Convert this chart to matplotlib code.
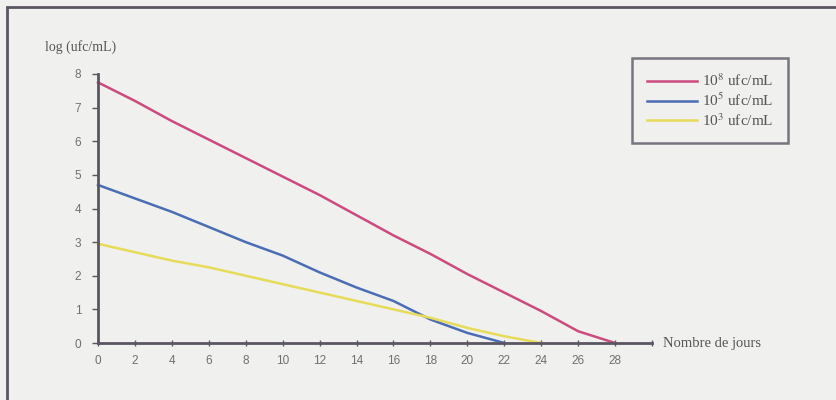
import matplotlib
matplotlib.use("Agg")
import matplotlib.pyplot as plt
from matplotlib.patches import Rectangle

# days and log counts per inoculum
days_high = [0, 2, 4, 6, 8, 10, 12, 14, 16, 18, 20, 22, 24, 26, 28]
log_high = [7.75, 7.2, 6.6, 6.05, 5.5, 4.95, 4.4, 3.8, 3.2, 2.65, 2.05, 1.5, 0.95, 0.35, 0.0]

days_mid = [0, 2, 4, 6, 8, 10, 12, 14, 16, 18, 20, 22]
log_mid = [4.7, 4.3, 3.9, 3.45, 3.0, 2.6, 2.1, 1.65, 1.25, 0.7, 0.3, 0.0]

days_low = [0, 2, 4, 6, 8, 10, 12, 14, 16, 18, 20, 22, 24]
log_low = [2.95, 2.7, 2.45, 2.25, 2.0, 1.75, 1.5, 1.25, 1.0, 0.75, 0.45, 0.2, 0.0]

labels = ["10$^{8}$ ufc/mL", "10$^{5}$ ufc/mL", "10$^{3}$ ufc/mL"]
colors = ["#cc4a7e", "#4a6db5", "#e6dc5a"]

x_ticks = list(range(0, 31, 2))
x_ticklabels = [str(t) for t in range(0, 29, 2)] + [""]
y_ticks = list(range(0, 9))

plt.rcParams["mathtext.fontset"] = "stix"
bg = "#f0f0ee"
axis_col = "#5b5563"
text_col = "#555555"

fig = plt.figure(figsize=(8.37, 4.0), dpi=100, facecolor=bg)
ax = fig.add_axes([98 / 837, 57 / 400, 554 / 837, 269 / 400])
ax.set_facecolor(bg)

for d, v, lab, c in zip([days_high, days_mid, days_low], [log_high, log_mid, log_low], labels, colors):
    ax.plot(d, v, color=c, lw=1.8, label=lab, clip_on=False)

ax.set_xlim(0, 30)
ax.set_ylim(0, 8)
ax.set_xticks(x_ticks)
ax.set_xticklabels(x_ticklabels)
ax.set_yticks(y_ticks)
for s in ["top", "right"]:
    ax.spines[s].set_visible(False)
for s in ["left", "bottom"]:
    ax.spines[s].set_color(axis_col)
    ax.spines[s].set_linewidth(2)
ax.tick_params(axis="x", direction="inout", length=5, width=1, color=axis_col,
               labelsize=8.5, labelcolor="#707070", pad=6)
ax.tick_params(axis="y", direction="out", length=4, width=1, color=axis_col,
               labelsize=8.5, labelcolor="#707070", pad=8)
for t in ax.get_xticklabels() + ax.get_yticklabels():
    t.set_family("Liberation Sans")

fig.text(45 / 837, 1 - 47 / 400, "log (ufc/mL)", family="Liberation Serif",
         fontsize=10, color=text_col, va="center", ha="left")
fig.text(663 / 837, 57 / 400, "Nombre de jours", family="Liberation Serif",
         fontsize=10.5, color=text_col, va="center", ha="left")

leg = ax.legend(loc="upper left", bbox_to_anchor=(632 / 837, 1 - 58 / 400),
                bbox_transform=fig.transFigure, frameon=True, fancybox=False,
                prop={"family": "Liberation Serif", "size": 11},
                handlelength=3.3, handletextpad=0.35, labelspacing=0.18,
                borderpad=0.95, borderaxespad=0)
leg.get_frame().set_edgecolor(axis_col)
leg.get_frame().set_linewidth(1.8)
leg.get_frame().set_facecolor(bg)
for t in leg.get_texts():
    t.set_color(text_col)

# scanned page frame: left and top border
fig.patches.append(Rectangle((7 / 837, -0.1), 1.2, 1.1 - 7 / 400,
                             transform=fig.transFigure, fill=False,
                             edgecolor=axis_col, lw=2))

fig.savefig("out.png", dpi=100, facecolor=bg)
